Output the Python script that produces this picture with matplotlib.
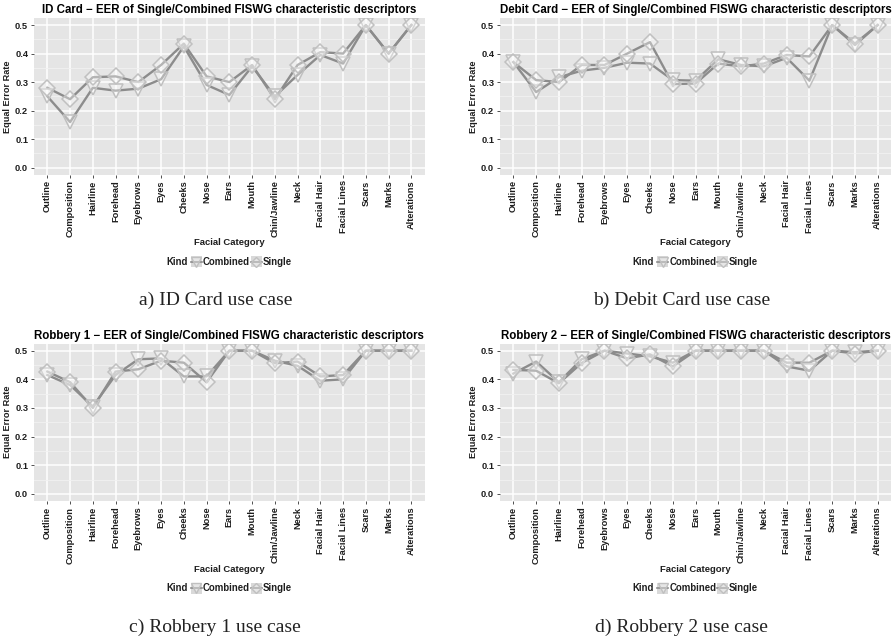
import matplotlib
matplotlib.use("Agg")
import matplotlib.pyplot as plt
from matplotlib.lines import Line2D
from matplotlib.patches import Rectangle
import numpy as np

plt.rcParams['font.family'] = ['Liberation Sans', 'DejaVu Sans']

categories = ["Outline", "Composition", "Hairline", "Forehead", "Eyebrows", "Eyes",
              "Cheeks", "Nose", "Ears", "Mouth", "Chin/Jawline", "Neck", "Facial Hair",
              "Facial Lines", "Scars", "Marks", "Alterations"]

# Equal error rates per facial category
id_single   = [0.28, 0.24, 0.317, 0.32, 0.30, 0.36, 0.435, 0.32, 0.30, 0.36, 0.24, 0.36, 0.405, 0.40, 0.50, 0.40, 0.50]
id_combined = [0.25, 0.16, 0.28, 0.27, 0.277, 0.31, 0.425, 0.29, 0.255, 0.355, 0.25, 0.325, 0.395, 0.365, 0.50, 0.40, 0.50]

debit_single   = [0.37, 0.307, 0.30, 0.36, 0.36, 0.40, 0.44, 0.293, 0.295, 0.365, 0.355, 0.365, 0.395, 0.39, 0.50, 0.435, 0.50]
debit_combined = [0.37, 0.265, 0.317, 0.34, 0.35, 0.368, 0.365, 0.307, 0.305, 0.38, 0.36, 0.355, 0.385, 0.305, 0.50, 0.43, 0.50]

rob1_single   = [0.427, 0.39, 0.30, 0.427, 0.435, 0.465, 0.458, 0.39, 0.50, 0.50, 0.456, 0.462, 0.41, 0.415, 0.50, 0.50, 0.50]
rob1_combined = [0.415, 0.38, 0.305, 0.415, 0.47, 0.473, 0.41, 0.41, 0.50, 0.50, 0.465, 0.447, 0.395, 0.40, 0.50, 0.50, 0.50]

rob2_single   = [0.433, 0.43, 0.386, 0.457, 0.50, 0.473, 0.487, 0.445, 0.50, 0.50, 0.50, 0.50, 0.458, 0.458, 0.50, 0.49, 0.50]
rob2_combined = [0.42, 0.462, 0.39, 0.47, 0.50, 0.49, 0.48, 0.458, 0.50, 0.50, 0.50, 0.50, 0.445, 0.43, 0.50, 0.495, 0.50]

titles = ["ID Card \u2212 EER of Single/Combined FISWG characteristic descriptors",
          "Debit Card \u2212 EER of Single/Combined FISWG characteristic descriptors",
          "Robbery 1 \u2212 EER of Single/Combined FISWG characteristic descriptors",
          "Robbery 2 \u2212 EER of Single/Combined FISWG characteristic descriptors"]
captions = ["a) ID Card use case", "b) Debit Card use case",
            "c) Robbery 1 use case", "d) Robbery 2 use case"]
yticks = [0.0, 0.1, 0.2, 0.3, 0.4, 0.5]

W, H = 896, 640
fig = plt.figure(figsize=(W / 100, H / 100), dpi=100)

LINE = "#8c8c8c"
EDGE = "#c0c0c0"
TXT = "#1e1e1e"
BG = "#e5e5e5"

# panel boxes in pixels: left, right, top, bottom
boxes = [(33.7, 425.0, 17.9, 174.8), (499.7, 891.4, 17.9, 174.8),
         (33.7, 425.0, 343.5, 501.0), (499.7, 891.4, 343.5, 501.0)]
data = [(id_single, id_combined), (debit_single, debit_combined),
        (rob1_single, rob1_combined), (rob2_single, rob2_combined)]

fig.canvas.draw()
renderer = fig.canvas.get_renderer()


def px(x, y):
    return x / W, 1 - y / H


def legend_row(cx, cy):
    """Horizontal 'Kind' legend centred at pixel (cx, cy)."""
    fs = 6.9
    items = [("text", "Kind"), ("gap", 3), ("key", "v"), ("gap", 1), ("text", "Combined"),
             ("gap", 1), ("key", "D"), ("gap", 1), ("text", "Single")]
    widths = []
    for kind, val in items:
        if kind == "text":
            t = fig.text(0, 0, val, fontsize=fs, fontweight="bold", color=TXT)
            bb = t.get_window_extent(renderer)
            t.remove()
            widths.append(bb.width)
        elif kind == "key":
            widths.append(11)
        else:
            widths.append(val)
    total = sum(widths)
    x = cx - total / 2
    for (kind, val), w in zip(items, widths):
        if kind == "text":
            fig.text(*px(x, cy), val, fontsize=fs, fontweight="bold", color=TXT,
                     ha="left", va="center")
        elif kind == "key":
            fx, fy = px(x, cy + 5.5)
            fig.patches.append(Rectangle((fx, fy), 11 / W, 11 / H, transform=fig.transFigure,
                                         facecolor="#d9d9d9", edgecolor="none", figure=fig))
            y0 = 1 - cy / H
            fig.lines.append(Line2D([x / W, (x + 11) / W], [y0, y0], transform=fig.transFigure,
                                    color=LINE, lw=1.2, figure=fig))
            fig.lines.append(Line2D([(x + 5.5) / W], [y0], transform=fig.transFigure,
                                    marker=val, ms=7 if val == "v" else 5.5, mfc=(1, 1, 1, 0.35),
                                    mec=EDGE, mew=1.0, linestyle="none", figure=fig))
        x += w


for i, ((l, r, t, b), (single, combined)) in enumerate(zip(boxes, data)):
    ax = fig.add_axes([l / W, 1 - b / H, (r - l) / W, (b - t) / H])
    ax.set_facecolor(BG)
    x = np.arange(len(categories))
    ax.set_xlim(-0.6, len(categories) - 0.4)
    ax.set_ylim(-0.025, 0.525)
    ax.set_yticks(yticks)
    ax.set_yticklabels([f"{v:.1f}" for v in yticks])
    ax.set_yticks(np.arange(0.05, 0.5, 0.1), minor=True)
    ax.set_xticks(x)
    ax.set_xticklabels(categories, rotation=90)
    ax.grid(which="major", color="white", lw=1.1)
    ax.grid(which="minor", axis="y", color="#f2f2f2", lw=0.6)
    ax.set_axisbelow(True)
    for s in ax.spines.values():
        s.set_visible(False)
    ax.tick_params(which="major", length=2.5, width=0.6, color="#333333", pad=1.5,
                   labelsize=6.7, labelcolor=TXT)
    ax.tick_params(which="minor", length=0)
    for lab in ax.get_xticklabels() + ax.get_yticklabels():
        lab.set_fontweight("bold")

    ax.plot(x, single, color=LINE, lw=1.7, zorder=3)
    ax.plot(x, combined, color=LINE, lw=1.7, zorder=3)
    ax.plot(x, combined, linestyle="none", marker="v", ms=10, mfc=(1, 1, 1, 0.35),
            mec=EDGE, mew=1.1, zorder=4)
    ax.plot(x, single, linestyle="none", marker="D", ms=7.8, mfc=(1, 1, 1, 0.35),
            mec=EDGE, mew=1.1, zorder=4)

    cx = (l + r) / 2
    ax.set_ylabel("Equal Error Rate", fontsize=6.6, fontweight="bold", color=TXT, labelpad=2)
    fig.text(*px(cx, t - 8), titles[i], fontsize=8.3, fontweight="bold", color="black",
             ha="center", va="center")
    fig.text(*px(cx, b + 68), "Facial Category", fontsize=6.8, fontweight="bold", color=TXT,
             ha="center", va="center")
    legend_row(cx, b + 87)
    fig.text(*px(cx - 14, b + 126), captions[i], fontsize=14, color="#222222",
             family=["Liberation Serif", "DejaVu Serif"], ha="center", va="center")

fig.savefig("out.png", dpi=100, facecolor="white")
